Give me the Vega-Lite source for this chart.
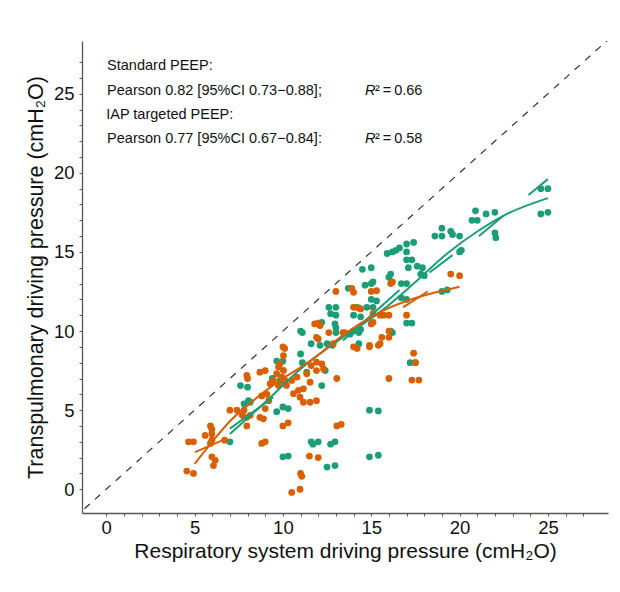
{
  "$schema": "https://vega.github.io/schema/vega-lite/v6.json",
  "width": 526,
  "height": 472,
  "autosize": "none",
  "padding": {"left": 82, "top": 41, "right": 12, "bottom": 79},
  "background": "white",
  "config": {
    "font": "Liberation Sans",
    "view": {"stroke": null},
    "axis": {
      "grid": false,
      "domainColor": "#555555",
      "domainWidth": 1.3,
      "tickColor": "#555555",
      "tickWidth": 1,
      "tickSize": 3,
      "labelColor": "#111111",
      "titleColor": "#111111",
      "labelFont": "Liberation Sans",
      "titleFont": "Liberation Sans",
      "labelFontSize": 18.5,
      "titleFontSize": 21,
      "titleFontWeight": "normal"
    }
  },
  "datasets": {
    "pts": [
      {"g": "Standard PEEP", "x": 24.6, "y": 19.0}, {"g": "Standard PEEP", "x": 25.0, "y": 19.0},
      {"g": "Standard PEEP", "x": 24.6, "y": 17.4}, {"g": "Standard PEEP", "x": 25.0, "y": 17.5},
      {"g": "Standard PEEP", "x": 20.9, "y": 17.6}, {"g": "Standard PEEP", "x": 21.0, "y": 17.0},
      {"g": "Standard PEEP", "x": 20.7, "y": 17.0}, {"g": "Standard PEEP", "x": 21.5, "y": 17.4},
      {"g": "Standard PEEP", "x": 22.0, "y": 17.5}, {"g": "Standard PEEP", "x": 22.0, "y": 16.2},
      {"g": "Standard PEEP", "x": 22.05, "y": 15.9}, {"g": "Standard PEEP", "x": 19.0, "y": 16.5},
      {"g": "Standard PEEP", "x": 18.6, "y": 16.0}, {"g": "Standard PEEP", "x": 19.0, "y": 16.0},
      {"g": "Standard PEEP", "x": 19.5, "y": 16.3}, {"g": "Standard PEEP", "x": 19.6, "y": 16.1},
      {"g": "Standard PEEP", "x": 20.0, "y": 16.0}, {"g": "Standard PEEP", "x": 20.0, "y": 15.0},
      {"g": "Standard PEEP", "x": 20.1, "y": 15.1}, {"g": "Standard PEEP", "x": 15.9, "y": 14.9},
      {"g": "Standard PEEP", "x": 16.2, "y": 15.0}, {"g": "Standard PEEP", "x": 16.4, "y": 15.1},
      {"g": "Standard PEEP", "x": 16.6, "y": 15.25}, {"g": "Standard PEEP", "x": 17.0, "y": 15.5},
      {"g": "Standard PEEP", "x": 17.4, "y": 15.6}, {"g": "Standard PEEP", "x": 17.0, "y": 15.0},
      {"g": "Standard PEEP", "x": 17.0, "y": 14.5}, {"g": "Standard PEEP", "x": 17.3, "y": 14.5},
      {"g": "Standard PEEP", "x": 17.1, "y": 14.0}, {"g": "Standard PEEP", "x": 17.6, "y": 14.1},
      {"g": "Standard PEEP", "x": 17.9, "y": 14.0}, {"g": "Standard PEEP", "x": 17.8, "y": 13.6},
      {"g": "Standard PEEP", "x": 18.0, "y": 13.5}, {"g": "Standard PEEP", "x": 16.1, "y": 13.6},
      {"g": "Standard PEEP", "x": 16.0, "y": 13.4}, {"g": "Standard PEEP", "x": 16.7, "y": 13.0},
      {"g": "Standard PEEP", "x": 17.0, "y": 13.0}, {"g": "Standard PEEP", "x": 19.0, "y": 12.5},
      {"g": "Standard PEEP", "x": 19.3, "y": 12.6}, {"g": "Standard PEEP", "x": 16.7, "y": 12.1},
      {"g": "Standard PEEP", "x": 17.0, "y": 12.0}, {"g": "Standard PEEP", "x": 17.0, "y": 10.5},
      {"g": "Standard PEEP", "x": 17.3, "y": 10.5}, {"g": "Standard PEEP", "x": 16.1, "y": 10.0},
      {"g": "Standard PEEP", "x": 16.2, "y": 9.9}, {"g": "Standard PEEP", "x": 14.5, "y": 13.9},
      {"g": "Standard PEEP", "x": 15.0, "y": 14.0}, {"g": "Standard PEEP", "x": 13.7, "y": 12.7},
      {"g": "Standard PEEP", "x": 14.65, "y": 12.9}, {"g": "Standard PEEP", "x": 15.0, "y": 13.0},
      {"g": "Standard PEEP", "x": 15.1, "y": 13.1}, {"g": "Standard PEEP", "x": 12.6, "y": 11.5},
      {"g": "Standard PEEP", "x": 13.0, "y": 11.5}, {"g": "Standard PEEP", "x": 12.7, "y": 11.1},
      {"g": "Standard PEEP", "x": 13.0, "y": 11.0}, {"g": "Standard PEEP", "x": 14.0, "y": 11.0},
      {"g": "Standard PEEP", "x": 14.4, "y": 10.9}, {"g": "Standard PEEP", "x": 15.0, "y": 12.0},
      {"g": "Standard PEEP", "x": 15.3, "y": 11.9}, {"g": "Standard PEEP", "x": 15.1, "y": 11.5},
      {"g": "Standard PEEP", "x": 14.75, "y": 11.5}, {"g": "Standard PEEP", "x": 14.2, "y": 11.5},
      {"g": "Standard PEEP", "x": 12.95, "y": 10.45}, {"g": "Standard PEEP", "x": 13.0, "y": 10.2},
      {"g": "Standard PEEP", "x": 13.0, "y": 9.9}, {"g": "Standard PEEP", "x": 11.0, "y": 10.0},
      {"g": "Standard PEEP", "x": 11.1, "y": 9.9}, {"g": "Standard PEEP", "x": 12.1, "y": 10.45},
      {"g": "Standard PEEP", "x": 12.2, "y": 10.55}, {"g": "Standard PEEP", "x": 14.0, "y": 10.0},
      {"g": "Standard PEEP", "x": 14.3, "y": 9.9}, {"g": "Standard PEEP", "x": 14.4, "y": 10.1},
      {"g": "Standard PEEP", "x": 13.8, "y": 9.8}, {"g": "Standard PEEP", "x": 14.3, "y": 9.2},
      {"g": "Standard PEEP", "x": 11.6, "y": 9.2}, {"g": "Standard PEEP", "x": 12.1, "y": 9.1},
      {"g": "Standard PEEP", "x": 12.5, "y": 9.2}, {"g": "Standard PEEP", "x": 12.8, "y": 9.1},
      {"g": "Standard PEEP", "x": 9.65, "y": 8.1}, {"g": "Standard PEEP", "x": 10.0, "y": 8.1},
      {"g": "Standard PEEP", "x": 11.0, "y": 8.55}, {"g": "Standard PEEP", "x": 11.1, "y": 8.0},
      {"g": "Standard PEEP", "x": 11.35, "y": 7.4}, {"g": "Standard PEEP", "x": 12.4, "y": 7.5},
      {"g": "Standard PEEP", "x": 12.2, "y": 6.55}, {"g": "Standard PEEP", "x": 9.85, "y": 6.9},
      {"g": "Standard PEEP", "x": 10.1, "y": 6.7}, {"g": "Standard PEEP", "x": 7.6, "y": 6.55},
      {"g": "Standard PEEP", "x": 8.0, "y": 6.45}, {"g": "Standard PEEP", "x": 8.05, "y": 5.6},
      {"g": "Standard PEEP", "x": 8.15, "y": 5.5}, {"g": "Standard PEEP", "x": 7.8, "y": 5.4},
      {"g": "Standard PEEP", "x": 9.4, "y": 7.0}, {"g": "Standard PEEP", "x": 10.0, "y": 5.2},
      {"g": "Standard PEEP", "x": 10.3, "y": 5.1}, {"g": "Standard PEEP", "x": 9.65, "y": 4.9},
      {"g": "Standard PEEP", "x": 7.0, "y": 3.0}, {"g": "Standard PEEP", "x": 11.6, "y": 3.0},
      {"g": "Standard PEEP", "x": 12.0, "y": 3.0}, {"g": "Standard PEEP", "x": 11.7, "y": 2.85},
      {"g": "Standard PEEP", "x": 12.7, "y": 2.85}, {"g": "Standard PEEP", "x": 12.95, "y": 3.0},
      {"g": "Standard PEEP", "x": 10.0, "y": 2.05}, {"g": "Standard PEEP", "x": 10.3, "y": 2.1},
      {"g": "Standard PEEP", "x": 12.5, "y": 1.4}, {"g": "Standard PEEP", "x": 12.95, "y": 1.5},
      {"g": "Standard PEEP", "x": 14.9, "y": 5.0}, {"g": "Standard PEEP", "x": 15.4, "y": 4.95},
      {"g": "Standard PEEP", "x": 14.9, "y": 2.05}, {"g": "Standard PEEP", "x": 15.4, "y": 2.15},
      {"g": "Standard PEEP", "x": 17.2, "y": 8.0}, {"g": "Standard PEEP", "x": 17.5, "y": 8.0},
      {"g": "IAP targeted PEEP", "x": 19.5, "y": 13.6}, {"g": "IAP targeted PEEP", "x": 20.0, "y": 13.5},
      {"g": "IAP targeted PEEP", "x": 16.1, "y": 13.0}, {"g": "IAP targeted PEEP", "x": 16.2, "y": 13.1},
      {"g": "IAP targeted PEEP", "x": 16.0, "y": 11.0}, {"g": "IAP targeted PEEP", "x": 17.0, "y": 11.0},
      {"g": "IAP targeted PEEP", "x": 15.6, "y": 9.6}, {"g": "IAP targeted PEEP", "x": 16.0, "y": 9.6},
      {"g": "IAP targeted PEEP", "x": 13.0, "y": 12.5}, {"g": "IAP targeted PEEP", "x": 13.9, "y": 12.7},
      {"g": "IAP targeted PEEP", "x": 14.0, "y": 12.45}, {"g": "IAP targeted PEEP", "x": 15.0, "y": 12.5},
      {"g": "IAP targeted PEEP", "x": 15.3, "y": 12.55}, {"g": "IAP targeted PEEP", "x": 14.0, "y": 11.5},
      {"g": "IAP targeted PEEP", "x": 14.3, "y": 11.45}, {"g": "IAP targeted PEEP", "x": 11.8, "y": 10.45},
      {"g": "IAP targeted PEEP", "x": 12.0, "y": 10.5}, {"g": "IAP targeted PEEP", "x": 12.6, "y": 9.9},
      {"g": "IAP targeted PEEP", "x": 13.4, "y": 9.9}, {"g": "IAP targeted PEEP", "x": 15.1, "y": 11.1},
      {"g": "IAP targeted PEEP", "x": 15.5, "y": 11.0}, {"g": "IAP targeted PEEP", "x": 15.0, "y": 10.45},
      {"g": "IAP targeted PEEP", "x": 15.1, "y": 10.55}, {"g": "IAP targeted PEEP", "x": 11.9, "y": 9.6},
      {"g": "IAP targeted PEEP", "x": 14.4, "y": 11.4}, {"g": "IAP targeted PEEP", "x": 12.1, "y": 10.35},
      {"g": "IAP targeted PEEP", "x": 15.7, "y": 11.0}, {"g": "IAP targeted PEEP", "x": 12.0, "y": 9.5},
      {"g": "IAP targeted PEEP", "x": 12.85, "y": 9.2}, {"g": "IAP targeted PEEP", "x": 13.5, "y": 9.9},
      {"g": "IAP targeted PEEP", "x": 14.0, "y": 9.0}, {"g": "IAP targeted PEEP", "x": 14.2, "y": 8.9},
      {"g": "IAP targeted PEEP", "x": 14.9, "y": 9.0}, {"g": "IAP targeted PEEP", "x": 15.5, "y": 9.2},
      {"g": "IAP targeted PEEP", "x": 16.0, "y": 10.0}, {"g": "IAP targeted PEEP", "x": 10.0, "y": 9.0},
      {"g": "IAP targeted PEEP", "x": 10.1, "y": 8.9}, {"g": "IAP targeted PEEP", "x": 9.84, "y": 7.93},
      {"g": "IAP targeted PEEP", "x": 9.75, "y": 7.72}, {"g": "IAP targeted PEEP", "x": 10.03, "y": 7.51},
      {"g": "IAP targeted PEEP", "x": 9.65, "y": 7.3}, {"g": "IAP targeted PEEP", "x": 9.94, "y": 7.09},
      {"g": "IAP targeted PEEP", "x": 10.12, "y": 6.88}, {"g": "IAP targeted PEEP", "x": 9.46, "y": 6.88},
      {"g": "IAP targeted PEEP", "x": 9.28, "y": 6.67}, {"g": "IAP targeted PEEP", "x": 9.75, "y": 6.56},
      {"g": "IAP targeted PEEP", "x": 10.2, "y": 6.56}, {"g": "IAP targeted PEEP", "x": 10.5, "y": 6.88},
      {"g": "IAP targeted PEEP", "x": 10.8, "y": 7.09}, {"g": "IAP targeted PEEP", "x": 11.35, "y": 7.3},
      {"g": "IAP targeted PEEP", "x": 11.6, "y": 7.82}, {"g": "IAP targeted PEEP", "x": 11.9, "y": 8.03},
      {"g": "IAP targeted PEEP", "x": 12.2, "y": 7.93}, {"g": "IAP targeted PEEP", "x": 12.3, "y": 7.6},
      {"g": "IAP targeted PEEP", "x": 11.9, "y": 7.5}, {"g": "IAP targeted PEEP", "x": 11.54, "y": 6.77},
      {"g": "IAP targeted PEEP", "x": 11.16, "y": 6.35}, {"g": "IAP targeted PEEP", "x": 10.88, "y": 6.25},
      {"g": "IAP targeted PEEP", "x": 10.6, "y": 6.04}, {"g": "IAP targeted PEEP", "x": 10.97, "y": 5.82},
      {"g": "IAP targeted PEEP", "x": 11.16, "y": 5.5}, {"g": "IAP targeted PEEP", "x": 11.54, "y": 5.5},
      {"g": "IAP targeted PEEP", "x": 11.9, "y": 5.6}, {"g": "IAP targeted PEEP", "x": 10.03, "y": 8.45},
      {"g": "IAP targeted PEEP", "x": 8.7, "y": 7.4}, {"g": "IAP targeted PEEP", "x": 9.0, "y": 7.5},
      {"g": "IAP targeted PEEP", "x": 7.96, "y": 7.2}, {"g": "IAP targeted PEEP", "x": 8.0, "y": 7.0},
      {"g": "IAP targeted PEEP", "x": 9.1, "y": 6.0}, {"g": "IAP targeted PEEP", "x": 9.2, "y": 5.6},
      {"g": "IAP targeted PEEP", "x": 8.8, "y": 5.9}, {"g": "IAP targeted PEEP", "x": 9.0, "y": 5.1},
      {"g": "IAP targeted PEEP", "x": 8.7, "y": 4.55}, {"g": "IAP targeted PEEP", "x": 8.9, "y": 4.45},
      {"g": "IAP targeted PEEP", "x": 7.0, "y": 5.0}, {"g": "IAP targeted PEEP", "x": 7.4, "y": 5.0},
      {"g": "IAP targeted PEEP", "x": 7.8, "y": 5.0}, {"g": "IAP targeted PEEP", "x": 7.7, "y": 4.67},
      {"g": "IAP targeted PEEP", "x": 7.96, "y": 4.55}, {"g": "IAP targeted PEEP", "x": 8.15, "y": 4.67},
      {"g": "IAP targeted PEEP", "x": 7.96, "y": 4.0}, {"g": "IAP targeted PEEP", "x": 5.9, "y": 4.0},
      {"g": "IAP targeted PEEP", "x": 5.98, "y": 3.8}, {"g": "IAP targeted PEEP", "x": 5.6, "y": 3.4},
      {"g": "IAP targeted PEEP", "x": 5.98, "y": 3.5}, {"g": "IAP targeted PEEP", "x": 5.98, "y": 3.1},
      {"g": "IAP targeted PEEP", "x": 5.9, "y": 2.9}, {"g": "IAP targeted PEEP", "x": 4.66, "y": 3.0},
      {"g": "IAP targeted PEEP", "x": 4.94, "y": 3.0}, {"g": "IAP targeted PEEP", "x": 6.7, "y": 3.1},
      {"g": "IAP targeted PEEP", "x": 5.98, "y": 2.05}, {"g": "IAP targeted PEEP", "x": 6.17, "y": 1.83},
      {"g": "IAP targeted PEEP", "x": 6.07, "y": 1.5}, {"g": "IAP targeted PEEP", "x": 4.56, "y": 1.15},
      {"g": "IAP targeted PEEP", "x": 4.94, "y": 1.0}, {"g": "IAP targeted PEEP", "x": 8.8, "y": 2.9},
      {"g": "IAP targeted PEEP", "x": 9.0, "y": 3.0}, {"g": "IAP targeted PEEP", "x": 10.0, "y": 4.0},
      {"g": "IAP targeted PEEP", "x": 10.3, "y": 4.2}, {"g": "IAP targeted PEEP", "x": 13.05, "y": 4.0},
      {"g": "IAP targeted PEEP", "x": 13.3, "y": 4.1}, {"g": "IAP targeted PEEP", "x": 11.5, "y": 2.1},
      {"g": "IAP targeted PEEP", "x": 12.0, "y": 2.0}, {"g": "IAP targeted PEEP", "x": 11.0, "y": 1.0},
      {"g": "IAP targeted PEEP", "x": 11.07, "y": 0.82}, {"g": "IAP targeted PEEP", "x": 10.5, "y": -0.2},
      {"g": "IAP targeted PEEP", "x": 10.97, "y": 0.0}, {"g": "IAP targeted PEEP", "x": 13.05, "y": 7.0},
      {"g": "IAP targeted PEEP", "x": 16.0, "y": 7.0}, {"g": "IAP targeted PEEP", "x": 14.9, "y": 9.1},
      {"g": "IAP targeted PEEP", "x": 15.4, "y": 9.1}, {"g": "IAP targeted PEEP", "x": 17.4, "y": 8.6},
      {"g": "IAP targeted PEEP", "x": 17.5, "y": 8.0}, {"g": "IAP targeted PEEP", "x": 17.3, "y": 6.9},
      {"g": "IAP targeted PEEP", "x": 17.7, "y": 6.9}
    ],
    "fits": [
      {"g": "Standard PEEP", "seg": "G1", "x": 7.0, "y": 3.5},
      {"g": "Standard PEEP", "seg": "G1", "x": 9.0, "y": 5.5},
      {"g": "Standard PEEP", "seg": "G1", "x": 11.0, "y": 7.6},
      {"g": "Standard PEEP", "seg": "G1", "x": 13.0, "y": 9.3},
      {"g": "Standard PEEP", "seg": "G1", "x": 15.5, "y": 11.2},
      {"g": "Standard PEEP", "seg": "G1", "x": 17.4, "y": 13.0},
      {"g": "Standard PEEP", "seg": "G1", "x": 19.3, "y": 14.9},
      {"g": "Standard PEEP", "seg": "G1", "x": 21.15, "y": 16.4},
      {"g": "Standard PEEP", "seg": "G1", "x": 22.5, "y": 17.3},
      {"g": "Standard PEEP", "seg": "G1", "x": 25.0, "y": 18.4},
      {"g": "Standard PEEP", "seg": "G2", "x": 13.4, "y": 9.4},
      {"g": "Standard PEEP", "seg": "G2", "x": 16.6, "y": 12.6},
      {"g": "Standard PEEP", "seg": "G3", "x": 18.3, "y": 13.7},
      {"g": "Standard PEEP", "seg": "G3", "x": 19.6, "y": 14.8},
      {"g": "Standard PEEP", "seg": "G4", "x": 21.1, "y": 16.0},
      {"g": "Standard PEEP", "seg": "G4", "x": 22.5, "y": 17.3},
      {"g": "Standard PEEP", "seg": "G5", "x": 23.9, "y": 18.6},
      {"g": "Standard PEEP", "seg": "G5", "x": 25.0, "y": 19.6},
      {"g": "Standard PEEP", "seg": "G6", "x": 7.0, "y": 3.83},
      {"g": "Standard PEEP", "seg": "G6", "x": 9.46, "y": 5.82},
      {"g": "IAP targeted PEEP", "seg": "O1", "x": 5.0, "y": 1.6},
      {"g": "IAP targeted PEEP", "seg": "O1", "x": 6.0, "y": 3.0},
      {"g": "IAP targeted PEEP", "seg": "O1", "x": 7.0, "y": 4.3},
      {"g": "IAP targeted PEEP", "seg": "O1", "x": 8.0, "y": 5.3},
      {"g": "IAP targeted PEEP", "seg": "O1", "x": 9.0, "y": 6.2},
      {"g": "IAP targeted PEEP", "seg": "O1", "x": 10.0, "y": 7.0},
      {"g": "IAP targeted PEEP", "seg": "O1", "x": 11.0, "y": 7.7},
      {"g": "IAP targeted PEEP", "seg": "O1", "x": 12.0, "y": 8.5},
      {"g": "IAP targeted PEEP", "seg": "O1", "x": 13.0, "y": 9.4},
      {"g": "IAP targeted PEEP", "seg": "O1", "x": 14.0, "y": 10.2},
      {"g": "IAP targeted PEEP", "seg": "O1", "x": 15.5, "y": 11.2},
      {"g": "IAP targeted PEEP", "seg": "O1", "x": 17.0, "y": 11.9},
      {"g": "IAP targeted PEEP", "seg": "O1", "x": 18.5, "y": 12.4},
      {"g": "IAP targeted PEEP", "seg": "O1", "x": 20.0, "y": 12.8},
      {"g": "IAP targeted PEEP", "seg": "O2", "x": 5.03, "y": 2.35},
      {"g": "IAP targeted PEEP", "seg": "O2", "x": 6.8, "y": 3.2},
      {"g": "IAP targeted PEEP", "seg": "O3", "x": 16.8, "y": 11.5},
      {"g": "IAP targeted PEEP", "seg": "O3", "x": 18.2, "y": 12.5}
    ],
    "notes": [
      {"tx": 0.05, "ty": 26.75, "label": "Standard PEEP:", "kind": "plain"},
      {"tx": 0.05, "ty": 25.2, "label": "Pearson 0.82 [95%CI 0.73\u22120.88];", "kind": "plain"},
      {"tx": 0.0, "ty": 23.66, "label": "IAP targeted PEEP:", "kind": "plain"},
      {"tx": 0.05, "ty": 22.15, "label": "Pearson 0.77 [95%CI 0.67\u22120.84]:", "kind": "plain"},
      {"tx": 14.65, "ty": 25.2, "label": "R", "kind": "italic"},
      {"tx": 14.65, "ty": 22.15, "label": "R", "kind": "italic"},
      {"tx": 14.65, "ty": 25.2, "label": "\u00b2\u2009=\u20090.66", "kind": "after"},
      {"tx": 14.65, "ty": 22.15, "label": "\u00b2\u2009=\u20090.58", "kind": "after"}
    ]
  },
  "layer": [
    {
      "data": {"values": [{"x": -3, "y": -3}, {"x": 32, "y": 32}]},
      "mark": {"type": "line", "clip": true, "color": "#333333", "strokeWidth": 1.2, "strokeDash": [7, 7]},
      "encoding": {
        "x": {
          "field": "x", "type": "quantitative",
          "scale": {"domain": [-1.37, 28.4], "nice": false, "zero": false},
          "axis": {
            "values": [0,1,2,3,4,5,6,7,8,9,10,11,12,13,14,15,16,17,18,19,20,21,22,23,24,25,26,27],
            "tickCount": 40,
            "labelExpr": "datum.value % 5 === 0 ? datum.label : ''",
            "labelOverlap": false,
            "labelPadding": 2,
            "titlePadding": 4,
            "title": "Respiratory system driving pressure (cmH\u2082O)"
          }
        },
        "y": {
          "field": "y", "type": "quantitative",
          "scale": {"domain": [-1.5, 28.33], "nice": false, "zero": false},
          "axis": {
            "values": [0,1,2,3,4,5,6,7,8,9,10,11,12,13,14,15,16,17,18,19,20,21,22,23,24,25,26,27],
            "tickCount": 40,
            "labelExpr": "datum.value % 5 === 0 ? datum.label : ''",
            "labelOverlap": false,
            "labelPadding": 5,
            "titlePadding": 6,
            "titleFontSize": 21.5,
            "title": "Transpulmonary driving pressure (cmH\u2082O)"
          }
        }
      }
    },
    {
      "data": {"name": "pts"},
      "mark": {"type": "circle", "size": 46, "opacity": 1},
      "encoding": {
        "x": {"field": "x", "type": "quantitative"},
        "y": {"field": "y", "type": "quantitative"},
        "color": {"field": "g", "type": "nominal", "legend": null,
          "scale": {"domain": ["Standard PEEP", "IAP targeted PEEP"], "range": ["#1b9e77", "#d95f02"]}}
      }
    },
    {
      "data": {"name": "fits"},
      "mark": {"type": "line", "strokeWidth": 2, "interpolate": "monotone"},
      "encoding": {
        "x": {"field": "x", "type": "quantitative"},
        "y": {"field": "y", "type": "quantitative"},
        "detail": {"field": "seg"},
        "color": {"field": "g", "type": "nominal", "legend": null}
      }
    },
    {
      "data": {"name": "notes"},
      "transform": [{"filter": "datum.kind === 'plain'"}],
      "mark": {"type": "text", "align": "left", "baseline": "middle", "fontSize": 14.5, "color": "#111111"},
      "encoding": {
        "x": {"field": "tx", "type": "quantitative"},
        "y": {"field": "ty", "type": "quantitative"},
        "text": {"field": "label"}
      }
    },
    {
      "data": {"name": "notes"},
      "transform": [{"filter": "datum.kind === 'italic'"}],
      "mark": {"type": "text", "align": "left", "baseline": "middle", "fontSize": 14.5, "fontStyle": "italic", "color": "#111111"},
      "encoding": {
        "x": {"field": "tx", "type": "quantitative"},
        "y": {"field": "ty", "type": "quantitative"},
        "text": {"field": "label"}
      }
    },
    {
      "data": {"name": "notes"},
      "transform": [{"filter": "datum.kind === 'after'"}],
      "mark": {"type": "text", "align": "left", "baseline": "middle", "fontSize": 14.5, "dx": 10, "color": "#111111"},
      "encoding": {
        "x": {"field": "tx", "type": "quantitative"},
        "y": {"field": "ty", "type": "quantitative"},
        "text": {"field": "label"}
      }
    }
  ]
}
